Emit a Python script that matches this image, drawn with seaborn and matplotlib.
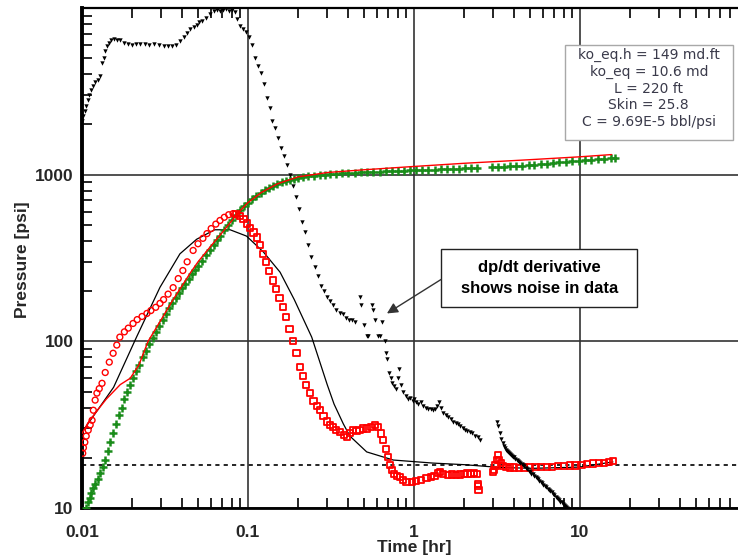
import numpy as np
import pandas as pd
import matplotlib
matplotlib.use("Agg")
import matplotlib.pyplot as plt
from matplotlib.patches import Rectangle
from matplotlib.ticker import LogLocator, NullFormatter, FixedLocator, FixedFormatter
import seaborn as sns

sns.set_theme(style="white")
plt.rcParams['font.family'] = ['Liberation Sans', 'DejaVu Sans']

# ---------------- data ----------------
# dp/dt derivative (black small triangles)
dpdt_t = [0.0100, 0.0102, 0.0104, 0.0106, 0.0108, 0.0110, 0.0113, 0.0116, 0.0120, 0.0124,
          0.0128, 0.0132, 0.0135, 0.0138, 0.0142, 0.0146, 0.0150, 0.0156, 0.0162, 0.0170,
          0.0180, 0.0190, 0.0200, 0.0212, 0.0225, 0.0240, 0.0255, 0.0270, 0.0290, 0.0310,
          0.0330, 0.0350, 0.0370, 0.0390, 0.0410, 0.0430, 0.0450, 0.0470, 0.0490, 0.0510,
          0.0530, 0.0560, 0.0590, 0.0620, 0.0650, 0.0680, 0.0710, 0.0740, 0.0770, 0.0800,
          0.0830, 0.0860, 0.0890, 0.0930, 0.0970, 0.1010, 0.1050, 0.1100, 0.1150, 0.1200,
          0.1250, 0.1300, 0.1350, 0.1400, 0.1460, 0.1520, 0.1580, 0.1650, 0.1720, 0.1790,
          0.1870, 0.1950, 0.2030, 0.2120, 0.2210, 0.2310, 0.2410, 0.2520, 0.2630, 0.2750,
          0.2870, 0.3000, 0.3130, 0.3270, 0.3410, 0.3560, 0.3720, 0.3880, 0.4050, 0.4230,
          0.4400, 0.4700, 0.4800, 0.5000, 0.5200, 0.5300, 0.5550, 0.5700, 0.5850, 0.6100,
          0.6250, 0.6450, 0.6650, 0.6800, 0.6900, 0.7100, 0.7250, 0.7400, 0.7600, 0.7800,
          0.8000, 0.8150, 0.8300, 0.8600, 0.8900, 0.9200, 0.9500, 0.9800, 1.0000, 1.0300,
          1.0600, 1.1000, 1.1400, 1.1800, 1.2200, 1.2600, 1.3000, 1.3400, 1.3800, 1.4200,
          1.4600, 1.5000, 1.5500, 1.6000, 1.6600, 1.7200, 1.7800, 1.8400, 1.9000, 1.9600,
          2.0300, 2.1000, 2.1700, 2.2500, 2.3300, 2.4200, 2.5000,
          3.1500, 3.2000, 3.2800, 3.3500, 3.4200, 3.5000, 3.5500, 3.6000, 3.6500, 3.7000,
          3.7500, 3.8000, 3.8500, 3.9000, 3.9500, 4.0000, 4.0750, 4.1500, 4.2250, 4.3000,
          4.3750, 4.4500, 4.5250, 4.6000, 4.7000, 4.8000, 4.9000, 5.0000, 5.1000, 5.2000,
          5.3000, 5.4000, 5.5000, 5.6000, 5.7000, 5.8000, 5.9000, 6.0000, 6.1250, 6.2500,
          6.3750, 6.5000, 6.6250, 6.7500, 6.8750, 7.0000, 7.1250, 7.2500, 7.3750, 7.5000,
          7.6250, 7.7500, 7.8750, 8.0000, 8.1250, 8.2500, 8.3750, 8.5000]
dpdt_p = [2100, 2250, 2400, 2600, 2800, 3000, 3200, 3400, 3600, 3700,
          3900, 4700, 5000, 5500, 5900, 6200, 6400, 6500, 6450, 6400,
          6200, 6100, 6000, 6050, 6100, 6050, 6000, 6050, 6000, 5950,
          5950, 5900, 6000, 6300, 6700, 7100, 7500, 7700, 7900, 8200,
          8400, 8700, 9200, 9600, 9700, 9600, 9700, 9800, 9600, 9700,
          9400, 8600, 7800, 7500, 7200, 6700, 6000, 5000, 4500, 4100,
          3500, 2900, 2500, 2100, 1900, 1650, 1450, 1300, 1150, 1000,
          850, 730, 620, 520, 450, 380, 320, 280, 245, 215,
          200, 185, 175, 165, 155, 148, 145, 138, 135, 135,
          130, 185, 165, 125, 107, 107, 165, 155, 135, 107,
          107, 130, 100, 85, 78, 65, 60, 56, 54, 52,
          60, 68, 55, 50, 47, 45, 46, 44, 45, 43,
          42, 43, 41, 40, 39.5, 39, 38.5, 39, 41, 43,
          40, 37, 36, 35, 34, 33, 32.5, 32, 31, 30,
          29.5, 29, 28.5, 28, 27, 26.5, 25.5,
          33, 31, 28, 26, 24.5, 23.5, 23.0, 22.4, 22.1, 21.8,
          21.5, 21.2, 20.9, 20.6, 20.3, 20.1, 19.8, 19.5, 19.1, 18.8,
          18.5, 18.3, 18.0, 17.8, 17.4, 17.1, 16.7, 16.4, 16.1, 15.9,
          15.6, 15.4, 15.1, 14.9, 14.6, 14.4, 14.1, 13.8, 13.5, 13.3,
          13.0, 12.8, 12.6, 12.4, 12.1, 11.9, 11.7, 11.5, 11.3, 11.1,
          10.9, 10.8, 10.6, 10.4, 10.3, 10.1, 9.95, 9.8]

# measured pressure (green +)
pres_t = [0.0105, 0.0108, 0.0111, 0.0114, 0.0117, 0.0120, 0.0124, 0.0128, 0.0133, 0.0138,
          0.0143, 0.0148, 0.0154, 0.0160, 0.0167, 0.0174, 0.0180, 0.0187, 0.0195, 0.0203,
          0.0212, 0.0222, 0.0232, 0.0243, 0.0255, 0.0268, 0.0280, 0.0293, 0.0307, 0.0320,
          0.0335, 0.0350, 0.0366, 0.0383, 0.0400, 0.0420, 0.0440, 0.0460, 0.0480, 0.0500,
          0.0530, 0.0560, 0.0590, 0.0620, 0.0650, 0.0680, 0.0720, 0.0760, 0.0800, 0.0850,
          0.0900, 0.0950, 0.1000, 0.1060, 0.1120, 0.1190, 0.1260, 0.1340, 0.1420, 0.1500,
          0.1600, 0.1700, 0.1800, 0.1900, 0.2000, 0.2150, 0.2300, 0.2500, 0.2700, 0.2900,
          0.3100, 0.3400, 0.3700, 0.4000, 0.4400, 0.4800, 0.5200, 0.5700, 0.6200, 0.6800,
          0.7400, 0.8000, 0.8700, 0.9500, 1.0300, 1.1200, 1.2200, 1.3300, 1.4500, 1.5800,
          1.7200, 1.8700, 2.0300, 2.2000, 2.4000,
          2.9500, 3.2000, 3.5000, 3.8000, 4.1000, 4.5000, 4.9000, 5.3000, 5.8000, 6.3000,
          6.9000, 7.5000, 8.2000, 9.0000, 9.8000, 10.700, 11.700, 12.800, 14.000, 15.300,
          16.300]
pres_p = [10.0, 10.8, 11.5, 12.3, 13.2, 14.0, 15.0, 16.2, 17.5, 19.5,
          22, 25, 28, 32, 36, 40, 45, 50, 55, 60,
          66, 72, 80, 88, 96, 105, 114, 124, 135, 146,
          158, 170, 182, 195, 208, 222, 237, 252, 268, 285,
          305, 330, 355, 380, 405, 430, 465, 500, 535, 575,
          615, 650, 680, 715, 745, 775, 805, 835, 860, 880,
          900, 918, 932, 945, 955, 965, 975, 985, 995, 1000,
          1005, 1012, 1018, 1022, 1028, 1032, 1036, 1040, 1044, 1048,
          1052, 1055, 1058, 1060, 1063, 1066, 1070, 1073, 1076, 1080,
          1083, 1086, 1089, 1092, 1095,
          1105, 1110, 1116, 1122, 1128, 1135, 1142, 1150, 1158, 1166,
          1175, 1184, 1192, 1200, 1208, 1217, 1227, 1236, 1245, 1255,
          1262]

# model pressure (thin red line)
model_p_t = [0.0100, 0.0104, 0.0110, 0.0120, 0.0130, 0.0140, 0.0155, 0.0170, 0.0195, 0.0220,
             0.0250, 0.0300, 0.0350, 0.0400, 0.0450, 0.0500, 0.0600, 0.0700, 0.0800, 0.0900,
             0.1000, 0.1200, 0.1500, 0.2000, 0.3000, 0.5000, 1.0000, 2.0000, 5.0000, 10.000,
             15.500]
model_p_p = [28, 30, 33, 37, 41, 45, 50, 55, 60, 72,
             100, 135, 175, 215, 258, 300, 375, 450, 530, 610,
             680, 780, 880, 970, 1030, 1070, 1120, 1170, 1230, 1280,
             1320]

# derivative data: early (red circles) and later (red squares)
deriv_early_t = [0.0101, 0.0102, 0.0104, 0.0106, 0.0109, 0.0112, 0.0115, 0.0117, 0.0120, 0.0123,
                 0.0127, 0.0132, 0.0138, 0.0146, 0.0154, 0.0162, 0.0169, 0.0180, 0.0190, 0.0203,
                 0.0215, 0.0230, 0.0246, 0.0260, 0.0278, 0.0295, 0.0310, 0.0330, 0.0354, 0.0380,
                 0.0405, 0.0430, 0.0467, 0.0500, 0.0535, 0.0566, 0.0600, 0.0640, 0.0678, 0.0720,
                 0.0765, 0.0813]
deriv_early_p = [21.3, 23, 24.8, 27, 29.3, 31.5, 33.6, 38.6, 44.4, 48.9,
                 52, 56, 65, 75, 84.8, 95, 106, 114, 120, 128,
                 135, 141, 147, 153, 160, 169, 178, 192, 210, 238,
                 266, 300, 351, 385, 415, 443, 475, 505, 531, 555,
                 575, 584]
deriv_late_t = [0.085, 0.0895, 0.094, 0.0986, 0.103, 0.108, 0.113, 0.118, 0.123, 0.128,
                0.134, 0.1416, 0.148, 0.155, 0.1626, 0.170, 0.178, 0.187, 0.196, 0.206,
                0.214, 0.224, 0.236, 0.248, 0.260, 0.272, 0.285, 0.300, 0.312, 0.325,
                0.340, 0.360, 0.380, 0.394, 0.410, 0.428, 0.450, 0.470, 0.494, 0.520,
                0.550, 0.580, 0.607, 0.630, 0.650, 0.675, 0.700, 0.720, 0.736, 0.760,
                0.790, 0.820, 0.860, 0.900, 0.970, 1.030, 1.100, 1.190, 1.260, 1.330,
                1.400, 1.440, 1.500, 1.600, 1.700, 1.800, 1.900, 2.000, 2.100, 2.200,
                2.300, 2.400, 2.420, 2.450, 2.430,
                3.000, 3.050, 3.100, 3.150, 3.200, 3.250, 3.330, 3.450, 3.600, 3.800,
                4.000, 4.300, 4.600, 5.000, 5.400, 5.800, 6.300, 6.800, 7.400, 8.000,
                8.700, 9.400, 10.20, 11.00, 12.00, 13.00, 14.00, 15.00, 15.80]
deriv_late_p = [580, 567, 540, 509, 480, 450, 420, 378, 336, 300,
                265, 232, 205, 182, 160, 140, 118, 101, 85, 69.8,
                62, 55, 48.9, 44, 41, 38.6, 35.5, 33, 31.5, 30.5,
                29.5, 28.5, 27.5, 26.6, 28.1, 29.3, 29, 29.5, 30, 30,
                30.5, 31.5, 30.5, 28, 25.5, 22.5, 20.2, 18.2, 16.9, 16,
                15.6, 15.4, 14.8, 14.4, 14.3, 14.5, 14.8, 15.1, 15.3, 15.6,
                16.2, 16.4, 16.0, 15.8, 15.9, 15.8, 15.9, 16.0, 16.1, 16.0,
                16.2, 16.0, 13.5, 12.8, 14.0,
                16.5, 16.9, 18.0, 19.5, 20.7, 19.5, 18.6, 17.8, 17.6, 17.5,
                17.5, 17.4, 17.5, 17.5, 17.6, 17.6, 17.7, 17.7, 17.8, 17.9,
                18.0, 18.0, 18.1, 18.3, 18.5, 18.6, 18.7, 18.9, 19.1]

# model derivative (thin black line)
model_d_t = [0.0100, 0.0104, 0.0155, 0.0213, 0.0295, 0.0389, 0.0491, 0.0630, 0.0780, 0.0980,
             0.1240, 0.1560, 0.1900, 0.2420, 0.3000, 0.3300, 0.3750, 0.4110, 0.5190, 0.7500,
             1.3000, 2.0000, 3.3000, 5.2000, 9.9000, 15.800]
model_d_p = [29, 30.1, 53, 106, 211, 335, 410, 467, 467, 428,
             343, 260, 178, 106, 55, 42, 32, 27, 21.7, 19.4,
             18.6, 18.2, 17.5, 17.3, 17.6, 18.9]

ref_level = 18.1  # horizontal dotted line

x_ticks = [0.01, 0.1, 1, 10]
x_ticklabels = ["0.01", "0.1", "1", "10"]
y_ticks = [10, 100, 1000]
y_ticklabels = ["10", "100", "1000"]

info_text = "ko_eq.h = 149 md.ft\nko_eq = 10.6 md\nL = 220 ft\nSkin = 25.8\nC = 9.69E-5 bbl/psi"
note_text = "dp/dt derivative\nshows noise in data"
note_arrow_to = (0.687, 147)
note_arrow_from = (1.455, 235)

# ---------------- figure ----------------
W, H = 738, 558
fig = plt.figure(figsize=(W / 100, H / 100), dpi=100)
ax = fig.add_axes([82 / W, 1 - 508 / H, (W - 82) / W, 500 / H])
ax.set_xscale("log")
ax.set_yscale("log")
ax.set_xlim(0.01, 89.5)
ax.set_ylim(10, 10000)

red = "#ff0000"
green = "#1a8c1a"

df_dpdt = pd.DataFrame({"t": dpdt_t, "p": dpdt_p})
df_pres = pd.DataFrame({"t": pres_t, "p": pres_p})
df_mp = pd.DataFrame({"t": model_p_t, "p": model_p_p})
df_de = pd.DataFrame({"t": deriv_early_t, "p": deriv_early_p})
df_dl = pd.DataFrame({"t": deriv_late_t, "p": deriv_late_p})
df_md = pd.DataFrame({"t": model_d_t, "p": model_d_p})

sns.lineplot(data=df_md, x="t", y="p", ax=ax, color="black", lw=0.9, sort=False,
             estimator=None, zorder=3)
sns.lineplot(data=df_mp, x="t", y="p", ax=ax, color=red, lw=1.0, sort=False,
             estimator=None, zorder=5)
sns.scatterplot(data=df_pres, x="t", y="p", ax=ax, marker="+", s=36, color=green,
                linewidth=1.8, zorder=4)
sns.scatterplot(data=df_de, x="t", y="p", ax=ax, marker="o", s=18, facecolor="none",
                edgecolor=red, linewidth=1.0, zorder=4)
sns.scatterplot(data=df_dl, x="t", y="p", ax=ax, marker="s", s=20, facecolor="none",
                edgecolor=red, linewidth=1.3, zorder=4)
sns.scatterplot(data=df_dpdt, x="t", y="p", ax=ax, marker="v", s=10, color="black",
                linewidth=0, zorder=6)

ax.axhline(ref_level, color="black", lw=1.2, ls=(0, (2.5, 2.5)), zorder=2)

# grid & ticks
ax.grid(which="major", color="#333333", lw=1.2, zorder=1)
ax.grid(which="minor", visible=False)
ax.xaxis.set_major_locator(FixedLocator(x_ticks))
ax.xaxis.set_major_formatter(FixedFormatter(x_ticklabels))
ax.yaxis.set_major_locator(FixedLocator(y_ticks))
ax.yaxis.set_major_formatter(FixedFormatter(y_ticklabels))
ax.xaxis.set_minor_locator(LogLocator(base=10, subs=np.arange(2, 10)))
ax.yaxis.set_minor_locator(LogLocator(base=10, subs=np.arange(2, 10)))
ax.xaxis.set_minor_formatter(NullFormatter())
ax.yaxis.set_minor_formatter(NullFormatter())
ax.tick_params(which="both", direction="in", top=True, right=False, bottom=True, left=True,
               color="black")
ax.tick_params(which="major", length=0, pad=6)
ax.tick_params(which="minor", length=7, width=1.2)
for lab in ax.get_xticklabels() + ax.get_yticklabels():
    lab.set_fontweight("bold")
    lab.set_fontsize(12.5)
ax.tick_params(axis="x", pad=12)

for side, lw in [("left", 2.8), ("bottom", 2.0), ("top", 1.6)]:
    ax.spines[side].set_visible(True)
    ax.spines[side].set_linewidth(lw)
    ax.spines[side].set_color("black")
ax.spines["right"].set_visible(False)

ax.set_xlabel("Time [hr]", fontsize=12.5, fontweight="bold")
ax.set_ylabel("Pressure [psi]", fontsize=12.5, fontweight="bold")
ax.xaxis.set_label_coords((414 - 82) / 656, -(540 - 508) / 500)
ax.yaxis.set_label_coords(-(82 - 30) / 656, (508 - 260) / 500)

# info box
ax.add_patch(Rectangle((0.736, 0.736), 0.256, 0.19, transform=ax.transAxes,
                       facecolor="white", edgecolor="#a8a8a8", lw=1.0, zorder=8))
ax.text(0.864, 0.839, info_text, transform=ax.transAxes, ha="center", va="center",
        fontsize=10, color="#3a3a4a", linespacing=1.25, zorder=9,
        family=["DejaVu Sans"])

# annotation box with arrow
ax.add_patch(Rectangle((0.547, 0.402), 0.299, 0.116, transform=ax.transAxes,
                       facecolor="white", edgecolor="#222222", lw=1.0, zorder=8))
ax.text(0.697, 0.46, note_text, transform=ax.transAxes, ha="center", va="center",
        fontsize=12, fontweight="bold", color="black", linespacing=1.45, zorder=9)
ax.annotate("", xy=note_arrow_to, xytext=note_arrow_from,
            arrowprops=dict(arrowstyle="-|>", color="#333333", lw=1.0, mutation_scale=16,
                            shrinkA=0, shrinkB=0), zorder=9)

fig.savefig("out.png", dpi=100, facecolor="white")
